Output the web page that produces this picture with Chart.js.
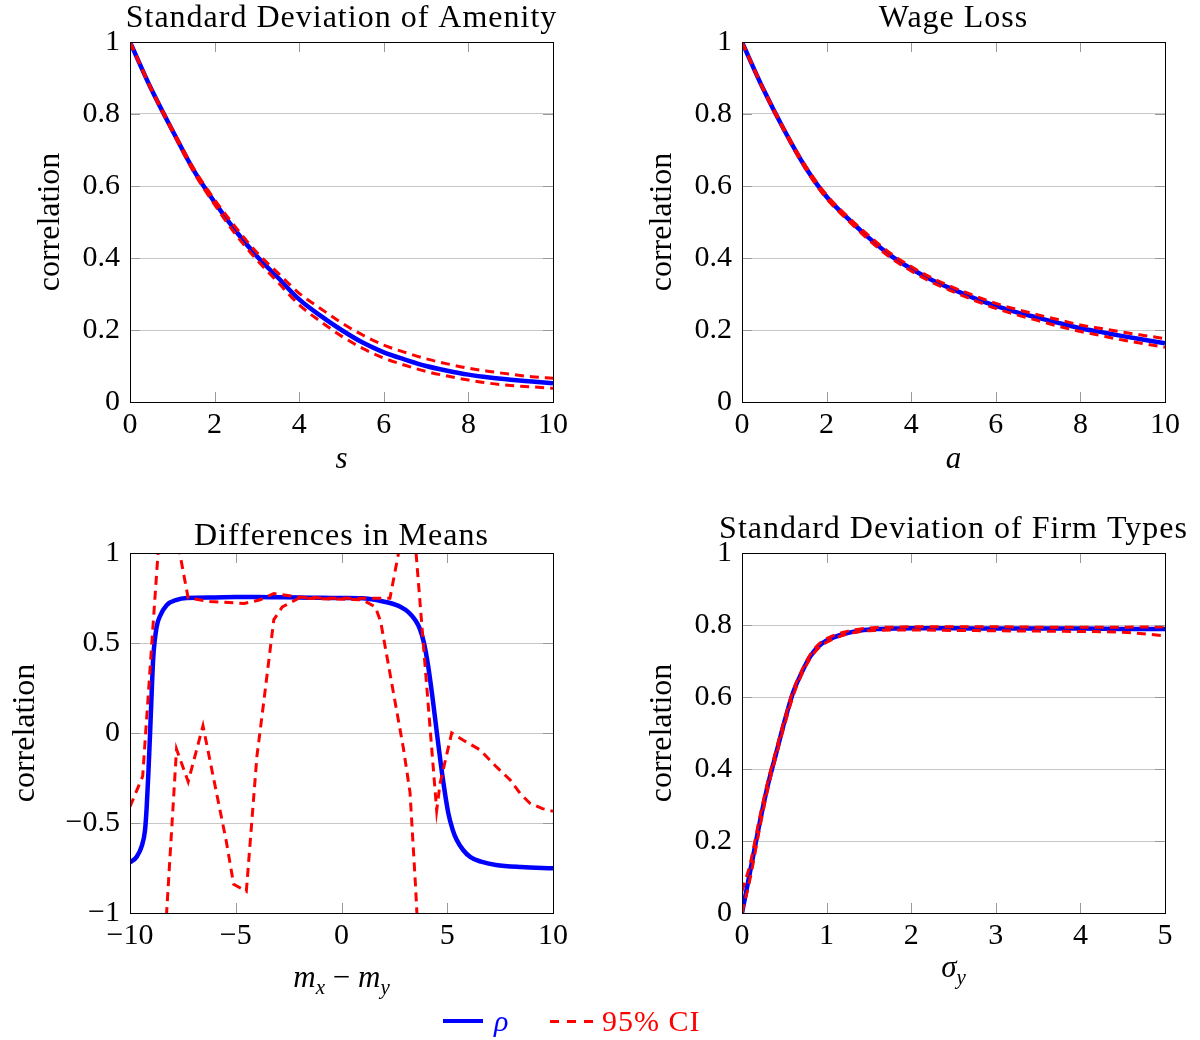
<!DOCTYPE html>
<html>
<head>
<meta charset="utf-8">
<script src="https://cdn.jsdelivr.net/npm/chart.js@4.4.1/dist/chart.umd.min.js"></script>
<style>
  body { margin: 0; background: #fff; width: 1200px; height: 1040px; position: relative; overflow: hidden;
         font-family: "Liberation Serif", "DejaVu Serif", serif; }
  canvas { position: absolute; }
  .leg { position: absolute; font-size: 30px; line-height: 30px; white-space: nowrap; }
</style>
</head>
<body>
<canvas id="amenity" width="600" height="490" style="left:0;top:0"></canvas>
<canvas id="wage" width="600" height="490" style="left:600px;top:0"></canvas>
<canvas id="means" width="600" height="550" style="left:0;top:490px"></canvas>
<canvas id="firm" width="600" height="550" style="left:600px;top:490px"></canvas>

<div class="leg" style="left:443px;top:1019px;width:40px;height:0;border-top:4px solid #0000ff"></div>
<div class="leg" style="left:494px;top:1006px;color:#0000ff;font-style:italic">ρ</div>
<div class="leg" style="left:550px;top:1020px;width:45px;height:3px;background:repeating-linear-gradient(90deg,#ff0000 0 9px,transparent 9px 17px)"></div>
<div class="leg" style="left:602px;top:1006px;color:#ff0000;letter-spacing:1px">95% CI</div>

<script>
// Standard Deviation of Amenity
const amenityS = [0, 0.5, 1, 1.5, 2, 2.5, 3, 3.5, 4, 4.5, 5, 5.5, 6, 6.5, 7, 7.5, 8, 8.5, 9, 9.5, 10];
const amenityRho = [1.0, 0.87, 0.755, 0.645, 0.555, 0.475, 0.405, 0.345, 0.285, 0.24, 0.2, 0.165, 0.138, 0.118, 0.1, 0.087, 0.076, 0.068, 0.062, 0.057, 0.052];
const amenityHi = [1.0, 0.872, 0.758, 0.65, 0.562, 0.485, 0.415, 0.358, 0.302, 0.26, 0.22, 0.186, 0.158, 0.138, 0.12, 0.106, 0.094, 0.085, 0.077, 0.07, 0.066];
const amenityLo = [1.0, 0.868, 0.752, 0.64, 0.548, 0.465, 0.395, 0.332, 0.27, 0.224, 0.183, 0.149, 0.122, 0.102, 0.085, 0.072, 0.061, 0.052, 0.046, 0.042, 0.038];

// Wage Loss
const wageA = [0, 0.5, 1, 1.5, 2, 2.5, 3, 3.5, 4, 4.5, 5, 5.5, 6, 6.5, 7, 7.5, 8, 8.5, 9, 9.5, 10];
const wageRho = [1.0, 0.87, 0.755, 0.652, 0.57, 0.51, 0.456, 0.408, 0.37, 0.338, 0.312, 0.288, 0.267, 0.249, 0.234, 0.219, 0.205, 0.194, 0.183, 0.173, 0.163];
const wageHi = [1.0, 0.872, 0.758, 0.656, 0.575, 0.515, 0.462, 0.414, 0.376, 0.344, 0.318, 0.295, 0.274, 0.257, 0.242, 0.228, 0.214, 0.204, 0.194, 0.185, 0.176];
const wageLo = [1.0, 0.868, 0.752, 0.648, 0.565, 0.505, 0.45, 0.402, 0.364, 0.332, 0.306, 0.282, 0.26, 0.242, 0.226, 0.21, 0.196, 0.184, 0.172, 0.162, 0.152];

// Differences in Means
const meansRhoX = [-10, -9.68, -9.45, -9.29, -9.21, -9.13, -9.05, -8.97, -8.9, -8.74, -8.58, -8.27, -7.79, -7.32, -6, -5, -4, -3, -2, -1, 0, 1, 1.5, 1.8, 2.2, 2.8, 3.2, 3.5, 3.7, 3.9, 4.1, 4.3, 4.5, 4.75, 5.05, 5.25, 5.45, 5.75, 6.1, 6.6, 7.3, 8.5, 10];
const meansRho = [-0.72, -0.687, -0.63, -0.54, -0.41, -0.22, 0.0, 0.24, 0.42, 0.59, 0.65, 0.71, 0.74, 0.75, 0.753, 0.755, 0.755, 0.754, 0.753, 0.751, 0.75, 0.748, 0.742, 0.735, 0.725, 0.7, 0.668, 0.625, 0.58, 0.5, 0.37, 0.2, 0.01, -0.22, -0.445, -0.535, -0.595, -0.65, -0.69, -0.715, -0.733, -0.745, -0.752];
const meansCiAX = [-10, -9.4, -8.4, -7.25, -6.2, -4.6, -3.85, -3.2, -2.0, -0.5, 1.0, 2.29, 3.28, 4.5, 4.66, 5.21, 5.76, 6.55, 7.34, 7.97, 8.44, 8.91, 9.5, 10];
const meansCiA = [-0.41, -0.24, 1.47, 0.75, 0.73, 0.72, 0.74, 0.775, 0.755, 0.748, 0.748, 0.748, 1.36, -0.43, -0.28, 0.0, -0.04, -0.094, -0.19, -0.26, -0.335, -0.39, -0.42, -0.435];
const meansCiBX = [-8.45, -7.8, -7.25, -6.55, -5.45, -5.1, -4.5, -4.0, -3.7, -3.2, -2.8, -2.0, -0.5, 1.0, 1.6, 1.85, 2.92, 3.24, 3.5, 3.65];
const meansCiB = [-1.35, -0.09, -0.27, 0.04, -0.6, -0.84, -0.88, -0.13, 0.15, 0.63, 0.70, 0.75, 0.745, 0.74, 0.7, 0.62, -0.08, -0.33, -0.85, -1.2];

// Standard Deviation of Firm Types
const firmSigma = [0, 0.1, 0.2, 0.3, 0.4, 0.5, 0.6, 0.7, 0.8, 0.9, 1.0, 1.2, 1.4, 1.6, 1.8, 2.0, 2.5, 3.0, 3.5, 4.0, 4.5, 5.0];
const firmRho = [0, 0.12, 0.24, 0.35, 0.44, 0.53, 0.61, 0.665, 0.71, 0.74, 0.757, 0.775, 0.785, 0.789, 0.79, 0.791, 0.791, 0.79, 0.79, 0.79, 0.789, 0.789];
const firmHi = [0.06, 0.14, 0.255, 0.36, 0.45, 0.535, 0.615, 0.67, 0.715, 0.745, 0.762, 0.78, 0.789, 0.793, 0.794, 0.795, 0.795, 0.795, 0.794, 0.794, 0.794, 0.795];
const firmLo = [0.0, 0.1, 0.225, 0.34, 0.435, 0.52, 0.6, 0.66, 0.705, 0.735, 0.752, 0.772, 0.782, 0.785, 0.786, 0.786, 0.785, 0.784, 0.783, 0.782, 0.78, 0.77];

const FONT = '"Liberation Serif", "DejaVu Serif", serif';
const BLUE = '#0000ff';
const RED = '#ff0000';

const pts = (xs, ys) => xs.map((x, i) => ({ x: x, y: ys[i] }));

function rhoSet(xs, ys) {
    return { data: pts(xs, ys), borderColor: BLUE, borderWidth: 4.5, pointRadius: 0,
             cubicInterpolationMode: 'monotone', order: 2 };
}
function ciSet(xs, ys, smooth) {
    return { data: pts(xs, ys), borderColor: RED, borderWidth: 3, borderDash: [9, 6], pointRadius: 0,
             cubicInterpolationMode: smooth ? 'monotone' : 'default', tension: 0, order: 1 };
}

// frame, inner tick marks, panel title and x-axis label
const panelText = {
    id: 'panelText',
    afterDraw(chart, args, o) {
        const { ctx, chartArea: a, scales } = chart;
        ctx.save();
        ctx.strokeStyle = '#999';
        ctx.lineWidth = 1;
        ctx.beginPath();
        scales.x.ticks.forEach(t => {
            const px = Math.round(scales.x.getPixelForValue(t.value)) + 0.5;
            ctx.moveTo(px, a.bottom); ctx.lineTo(px, a.bottom - 10);
            ctx.moveTo(px, a.top); ctx.lineTo(px, a.top + 10);
        });
        scales.y.ticks.forEach(t => {
            const py = Math.round(scales.y.getPixelForValue(t.value)) + 0.5;
            ctx.moveTo(a.left, py); ctx.lineTo(a.left + 10, py);
            ctx.moveTo(a.right, py); ctx.lineTo(a.right - 10, py);
        });
        ctx.stroke();

        ctx.strokeStyle = '#000';
        ctx.strokeRect(Math.round(a.left) + 0.5, Math.round(a.top) + 0.5,
                       Math.round(a.right - a.left), Math.round(a.bottom - a.top));

        const cx = (a.left + a.right) / 2;
        ctx.fillStyle = '#000';
        ctx.textBaseline = 'alphabetic';
        ctx.textAlign = 'center';
        ctx.font = '32px ' + FONT;
        ctx.letterSpacing = '1px';
        ctx.fillText(o.title, cx, o.titleY);
        ctx.letterSpacing = '0px';

        // x label built from pieces (italic letters, subscripts)
        const fontOf = p => (p.italic ? 'italic ' : '') + (p.sub ? '21px ' : '31px ') + FONT;
        let w = 0;
        o.xlabel.forEach(p => { ctx.font = fontOf(p); w += ctx.measureText(p.t).width; });
        let x = cx - w / 2;
        ctx.textAlign = 'left';
        o.xlabel.forEach(p => {
            ctx.font = fontOf(p);
            ctx.fillText(p.t, x, o.xlabelY + (p.sub ? 7 : 0));
            x += ctx.measureText(p.t).width;
        });
        ctx.restore();
    }
};

const minus = v => String(v).replace('-', '\u2212');

function makePanel(id, c) {
    return new Chart(document.getElementById(id), {
        type: 'line',
        data: { datasets: c.datasets },
        options: {
            responsive: false,
            animation: false,
            events: [],
            layout: { padding: { top: c.padTop, right: c.padRight, bottom: c.padBottom, left: 0 } },
            plugins: {
                legend: { display: false },
                tooltip: { enabled: false },
                panelText: { title: c.title, titleY: c.titleY, xlabel: c.xlabel, xlabelY: c.xlabelY }
            },
            scales: {
                x: {
                    type: 'linear', min: c.xMin, max: c.xMax,
                    ticks: { stepSize: c.xStep, color: '#000', font: { family: FONT, size: 30 }, padding: 5,
                             maxRotation: 0, callback: minus },
                    grid: { display: false, drawTicks: false },
                    border: { display: false },
                    afterFit(s) { s.height = 60; s.paddingLeft = 0; s.paddingRight = 0; }
                },
                y: {
                    type: 'linear', min: c.yMin, max: c.yMax,
                    ticks: { stepSize: c.yStep, color: '#000', font: { family: FONT, size: 30 }, padding: 10,
                             callback: minus },
                    grid: { color: '#c8c8c8', drawTicks: false },
                    border: { display: false },
                    title: { display: true, text: 'correlation', color: '#000',
                             font: { family: FONT, size: 32 }, padding: { top: c.yTitlePad, bottom: 0 } },
                    afterFit(s) { s.width = c.yWidth; s.paddingTop = 0; s.paddingBottom = 0; }
                }
            }
        },
        plugins: [panelText]
    });
}

makePanel('amenity', {
    datasets: [rhoSet(amenityS, amenityRho), ciSet(amenityS, amenityHi, true), ciSet(amenityS, amenityLo, true)],
    title: 'Standard Deviation of Amenity', titleY: 27,
    xlabel: [{ t: 's', italic: true }], xlabelY: 468,
    xMin: 0, xMax: 10, xStep: 2, yMin: 0, yMax: 1, yStep: 0.2,
    padTop: 42, padRight: 47, padBottom: 28, yWidth: 130, yTitlePad: 31
});

makePanel('wage', {
    datasets: [rhoSet(wageA, wageRho), ciSet(wageA, wageHi, true), ciSet(wageA, wageLo, true)],
    title: 'Wage Loss', titleY: 27,
    xlabel: [{ t: 'a', italic: true }], xlabelY: 468,
    xMin: 0, xMax: 10, xStep: 2, yMin: 0, yMax: 1, yStep: 0.2,
    padTop: 42, padRight: 35, padBottom: 28, yWidth: 142, yTitlePad: 43
});

makePanel('means', {
    datasets: [rhoSet(meansRhoX, meansRho), ciSet(meansCiAX, meansCiA, false), ciSet(meansCiBX, meansCiB, false)],
    title: 'Differences in Means', titleY: 55,
    xlabel: [{ t: 'm', italic: true }, { t: 'x', italic: true, sub: true }, { t: ' \u2212 ' },
             { t: 'm', italic: true }, { t: 'y', italic: true, sub: true }], xlabelY: 497,
    xMin: -10, xMax: 10, xStep: 5, yMin: -1, yMax: 1, yStep: 0.5,
    padTop: 63, padRight: 47, padBottom: 67, yWidth: 130, yTitlePad: 6
});

makePanel('firm', {
    datasets: [rhoSet(firmSigma, firmRho), ciSet(firmSigma, firmHi, true), ciSet(firmSigma, firmLo, true)],
    title: 'Standard Deviation of Firm Types', titleY: 48,
    xlabel: [{ t: '\u03c3', italic: true }, { t: 'y', italic: true, sub: true }], xlabelY: 487,
    xMin: 0, xMax: 5, xStep: 1, yMin: 0, yMax: 1, yStep: 0.2,
    padTop: 63, padRight: 35, padBottom: 67, yWidth: 142, yTitlePad: 43
});
</script>
</body>
</html>
